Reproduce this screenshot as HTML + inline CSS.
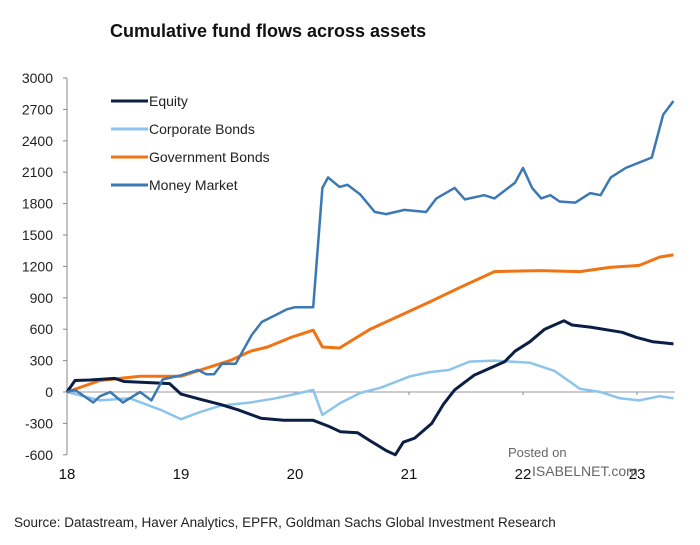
<!DOCTYPE html>
<html><head><meta charset="utf-8"><style>
body{margin:0;background:#fff;font-family:"Liberation Sans",Arial,sans-serif;}
svg text{font-family:"Liberation Sans",Arial,sans-serif;}
</style></head><body>
<svg id="chart" width="700" height="540" viewBox="0 0 700 540">
<text x="110" y="37" font-size="18" font-weight="bold" fill="#111">Cumulative fund flows across assets</text>
<g id="axes"></g>
<g id="series"></g>
<g id="legend"></g>
<text x="508" y="457" font-size="13" fill="#666">Posted on</text>
<text x="532" y="476" font-size="14" fill="#666">ISABELNET.com</text>
<text x="14" y="527" font-size="13.5" fill="#222">Source: Datastream, Haver Analytics, EPFR, Goldman Sachs Global Investment Research</text>
</svg>
<script>
const yTicks=[3000,2700,2400,2100,1800,1500,1200,900,600,300,0,-300,-600];
const xTicks=[18,19,20,21,22,23];
const seriesNames=["Equity","Corporate Bonds","Government Bonds","Money Market"];
const seriesColors=["#0b1f45","#8cc4ec","#f07314","#3b78b4"];
const eqX=[18,18.07,18.2,18.42,18.5,18.72,18.9,19,19.17,19.35,19.5,19.7,19.9,20.16,20.3,20.4,20.55,20.65,20.8,20.88,20.95,21.05,21.2,21.3,21.4,21.57,21.84,21.93,22.06,22.19,22.36,22.43,22.59,22.87,23.0,23.14,23.32];
const eqY=[0,110,115,130,100,90,80,-20,-70,-120,-170,-250,-270,-270,-330,-380,-390,-460,-560,-600,-480,-440,-300,-120,20,160,290,390,480,600,680,640,620,570,520,480,460];
const cbX=[18,18.29,18.55,18.82,19,19.17,19.35,19.61,19.83,20,20.16,20.24,20.39,20.57,20.75,21.01,21.18,21.35,21.53,21.75,22.06,22.28,22.5,22.68,22.85,23.02,23.2,23.32];
const cbY=[0,-80,-60,-170,-260,-190,-130,-100,-60,-20,20,-220,-110,-10,40,150,190,210,290,300,280,200,30,0,-60,-80,-40,-60];
const gbX=[18,18.29,18.64,19,19.17,19.43,19.61,19.76,19.96,20.16,20.24,20.39,20.66,20.92,21.18,21.45,21.75,22.15,22.5,22.76,23.02,23.2,23.32];
const gbY=[0,110,150,150,210,300,390,430,520,590,430,420,600,730,860,1000,1150,1160,1150,1190,1210,1290,1310];
const mmX=[18,18.07,18.23,18.29,18.38,18.49,18.64,18.74,18.84,19,19.15,19.22,19.29,19.36,19.48,19.62,19.71,19.82,19.93,20,20.16,20.24,20.29,20.39,20.46,20.57,20.7,20.8,20.96,21.15,21.24,21.4,21.49,21.66,21.75,21.93,22,22.08,22.16,22.24,22.32,22.46,22.59,22.68,22.77,22.9,23.13,23.23,23.32];
const mmY=[0,20,-100,-40,0,-100,0,-80,120,160,210,170,170,270,270,545,670,730,790,810,810,1950,2050,1960,1980,1890,1720,1700,1740,1720,1850,1950,1840,1880,1850,2000,2140,1950,1850,1880,1820,1810,1900,1880,2050,2140,2240,2650,2780];
const NS="http://www.w3.org/2000/svg";
const X0=67,X1=181,Y0=392,YS=31.4/300;
function xs(v){return X0+(v-18)*(X1-X0);}
function ys(v){return Y0-v*YS;}
function mk(tag,attrs,parent){const e=document.createElementNS(NS,tag);for(const k in attrs)e.setAttribute(k,attrs[k]);parent.appendChild(e);return e;}
const axes=document.getElementById('axes');
const yax=mk('line',{x1:X0,x2:X0,y1:ys(3000),y2:ys(-600),stroke:'#888','stroke-width':1},axes);


const xax=mk('line',{x1:X0,x2:675,y1:ys(0),y2:ys(0),stroke:'#999','stroke-width':1},axes);


yTicks.forEach(t=>{
 mk('line',{x1:X0-4,x2:X0,y1:ys(t),y2:ys(t),stroke:'#888'},axes);
 const tx=mk('text',{x:53,y:ys(t)+5,'font-size':14,'text-anchor':'end',fill:'#222'},axes);
 tx.textContent=t;
 
 
});
xTicks.forEach(t=>{
 mk('line',{x1:xs(t),x2:xs(t),y1:ys(0),y2:ys(0)+3,stroke:'#888'},axes);
 const tx=mk('text',{x:xs(t),y:479,'font-size':15,'text-anchor':'middle',fill:'#111'},axes);
 tx.textContent=t;
 
 
});
const sg=document.getElementById('series');
const allX=[eqX,cbX,gbX,mmX],allY=[eqY,cbY,gbY,mmY];
const widths=[3,2.5,3,2.5];
const order=[1,2,0,3];
order.forEach(i=>{
 const pts=allX[i].map((x,j)=>xs(x).toFixed(1)+','+ys(allY[i][j]).toFixed(1)).join(' ');
 const p=mk('polyline',{points:pts,fill:'none',stroke:seriesColors[i],'stroke-width':widths[i],'stroke-linejoin':'round'},sg);
 
 
});
const lg=document.getElementById('legend');
seriesNames.forEach((n,i)=>{
 const y=101+i*28;
 const g=mk('g',{},lg);
 
 
 mk('line',{x1:111,x2:148,y1:y,y2:y,stroke:seriesColors[i],'stroke-width':3},g);
 const t=mk('text',{x:149,y:y+5,'font-size':14,fill:'#222'},g);
 t.textContent=n;
});
</script>
</body></html>
